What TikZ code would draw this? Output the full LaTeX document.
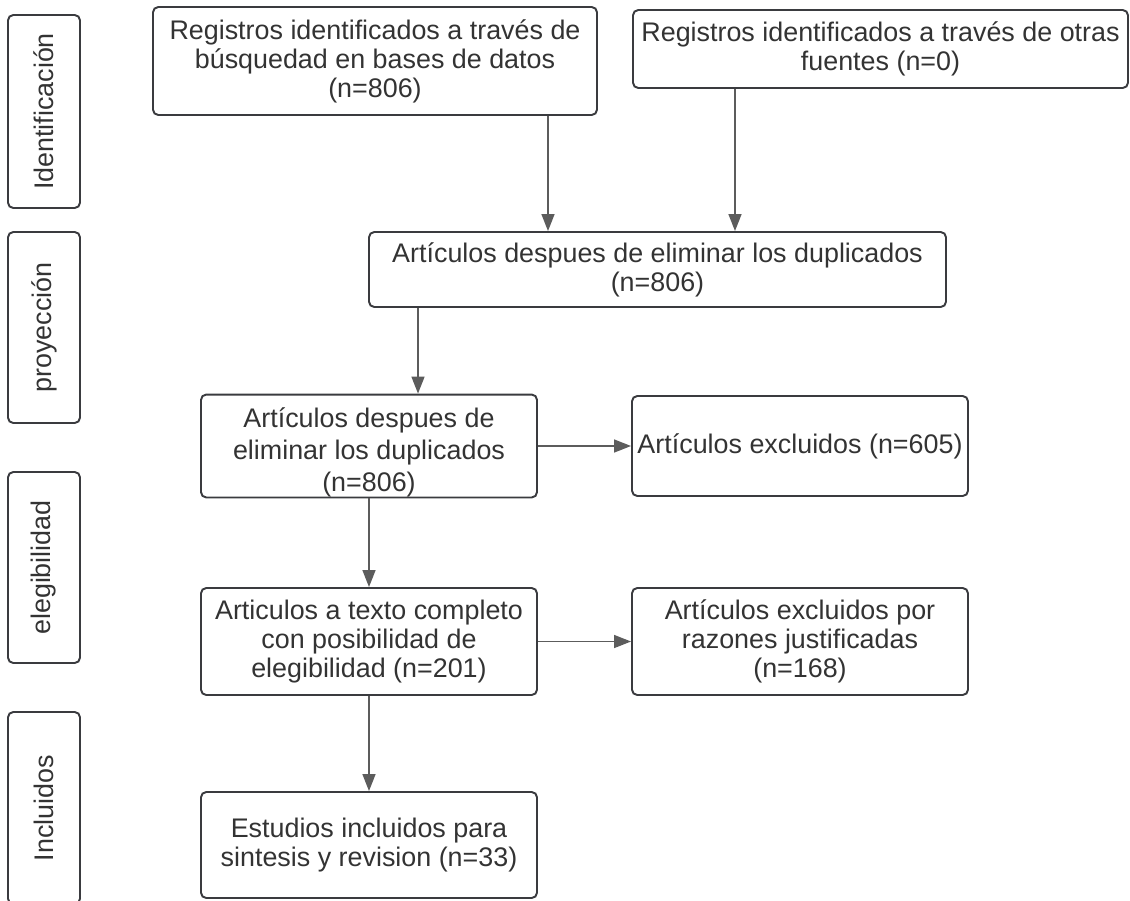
\documentclass[tikz,border=0pt]{standalone}
\usepackage{fontspec}
\setmainfont{Liberation Sans}
\usetikzlibrary{arrows.meta}
\definecolor{boxline}{HTML}{3A3B3F}
\definecolor{boxtext}{HTML}{333333}
\definecolor{arrowgray}{HTML}{5C5C5C}
\tikzset{box/.style={draw=boxline, line width=1.1pt, rounded corners=3pt, align=center,
  text=boxtext, inner sep=0pt, font=\fontsize{15.3}{16.5}\selectfont}}
\tikzset{phase/.style={box, rotate=90}}
\tikzset{flow/.style={draw=arrowgray, line width=0.85pt, -{Triangle[length=0.34cm, width=0.26cm]}}}

\begin{document}
\begin{tikzpicture}
      \useasboundingbox (0, 0) rectangle (22.6, -18);

      \node [phase, minimum width=3.86cm, minimum height=1.44cm] (ident) at (0.88, -2.23) {Identificación};
      \node [phase, minimum width=3.82cm, minimum height=1.44cm] (proy) at (0.88, -6.55) {proyección};
      \node [phase, minimum width=3.82cm, minimum height=1.44cm] (eleg) at (0.88, -11.35) {elegibilidad};
      \node [phase, minimum width=3.84cm, minimum height=1.44cm] (incl) at (0.88, -16.16) {Incluidos};

      \node [box, minimum width=8.88cm, minimum height=2.16cm] (bases) at (7.5, -1.22) {Registros identificados a través de\\búsquedad en bases de datos\\(n=806)};
      \node [box, minimum width=9.9cm, minimum height=1.56cm] (otras) at (17.61, -0.98) {Registros identificados a través de otras\\fuentes (n=0)};
      \node [box, minimum width=11.54cm, minimum height=1.5cm] (duplic) at (13.15, -5.39) {Artículos despues de eliminar los duplicados\\(n=806)};
      \node [box, minimum width=6.72cm, minimum height=2.0cm] (cribado) at (7.38, -8.92) {\rule{0pt}{19pt}Artículos despues de\\[1.7pt]eliminar los duplicados\\[1.7pt](n=806)};
      \node [box, minimum width=6.72cm, minimum height=2.0cm] (excl) at (16.0, -8.92) {Artículos excluidos (n=605)};
      \node [box, minimum width=6.72cm, minimum height=2.14cm] (texto) at (7.38, -12.83) {Articulos a texto completo\\con posibilidad de\\elegibilidad (n=201)};
      \node [box, minimum width=6.72cm, minimum height=2.14cm] (razones) at (16.0, -12.83) {Artículos excluidos por\\razones justificadas\\(n=168)};
      \node [box, minimum width=6.72cm, minimum height=2.12cm] (incluidos) at (7.38, -16.9) {Estudios incluidos para\\sintesis y revision (n=33)};

      \draw [flow] ([xshift=3.46cm]bases.south) -- ([xshift=3.46cm]bases.south |- duplic.north);
      \draw [flow] ([xshift=-2.91cm]otras.south) -- ([xshift=-2.91cm]otras.south |- duplic.north);
      \draw [flow] ([xshift=0.98cm]cribado.north |- duplic.south) -- ([xshift=0.98cm]cribado.north);
      \draw [flow] (cribado.east) -- (excl.west);
      \draw [flow] (cribado.south) -- (texto.north);
      \draw [flow] (texto.east) -- (razones.west);
      \draw [flow] (texto.south) -- (incluidos.north);
    \end{tikzpicture}
\end{document}
